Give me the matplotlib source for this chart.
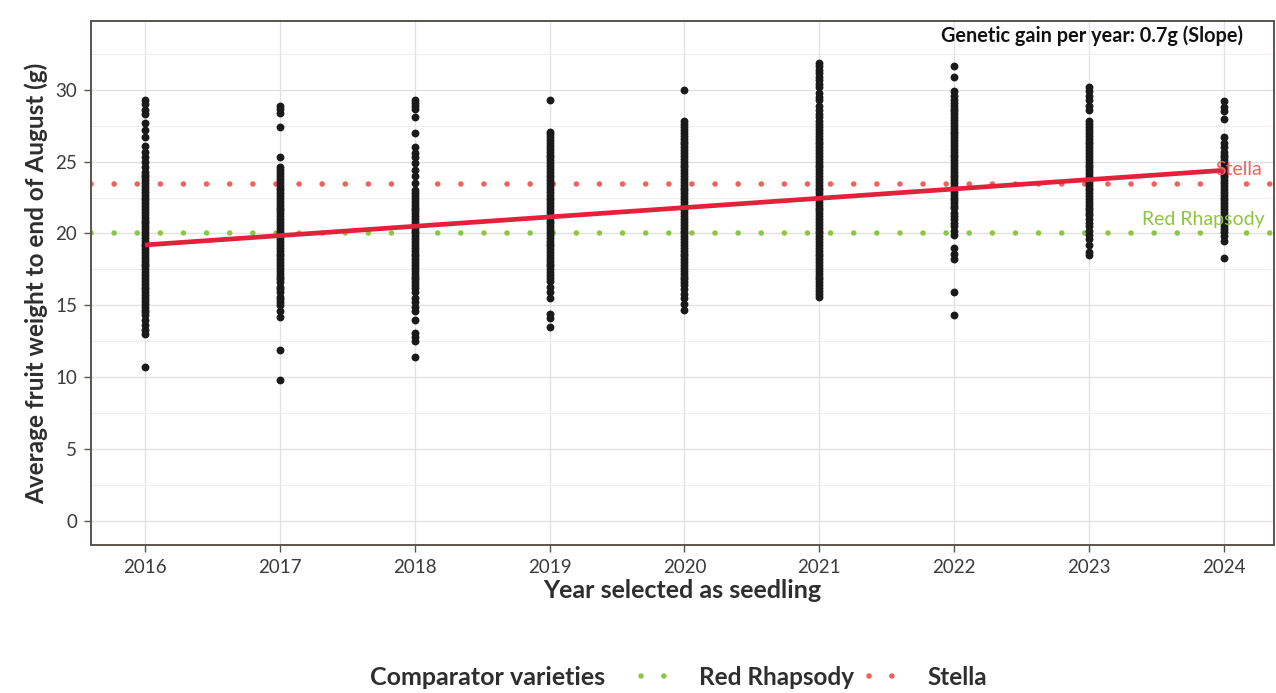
import matplotlib
matplotlib.use("Agg")
import matplotlib.pyplot as plt
from matplotlib.lines import Line2D

plt.rcParams['font.family'] = ['Lato', 'DejaVu Sans']

# fruit weight (g) of each selected seedling, by year selected
years = [2016, 2017, 2018, 2019, 2020, 2021, 2022, 2023, 2024]
weights = {
    2016: [29.3, 29.0, 28.6, 28.3, 27.7, 27.2, 26.7, 26.1, 25.7, 25.3, 25.0, 24.6,
           24.3, 24.1, 23.9, 23.7, 23.5, 23.3, 23.1, 22.9, 22.7, 22.5, 22.3, 22.1,
           21.9, 21.7, 21.5, 21.3, 21.1, 20.9, 20.7, 20.5, 20.3, 20.1, 19.9, 19.7,
           19.5, 19.3, 19.1, 18.9, 18.7, 18.5, 18.3, 18.1, 17.9, 17.7, 17.5, 17.3,
           17.1, 16.9, 16.7, 16.5, 16.3, 16.1, 15.9, 15.7, 15.5, 15.3, 15.1, 14.9,
           14.7, 14.5, 14.3, 14.0, 13.6, 13.3, 13.0, 10.7],
    2017: [28.9, 28.7, 28.4, 27.4, 25.3, 24.6,
           24.4, 24.2, 24.0, 23.8, 23.6, 23.4, 23.2, 23.0, 22.8, 22.6, 22.4, 22.2,
           22.0, 21.8, 21.6, 21.4, 21.2, 21.0, 20.8, 20.6, 20.4, 20.2, 20.0, 19.8,
           19.6, 19.4, 19.2, 19.0, 18.8, 18.6, 18.4, 18.2, 18.0, 17.8, 17.6, 17.4,
           17.2, 17.0, 16.8, 16.6, 16.3, 16.1, 15.9, 15.6, 15.4, 15.2, 15.0,
           14.6, 14.2, 11.9, 9.8],
    2018: [29.3, 29.1, 28.9, 28.7, 28.1, 27.0, 26.0, 25.6, 25.3, 24.9, 24.4, 24.0,
           23.5, 23.0, 22.8, 22.6, 22.4, 22.2, 22.0, 21.8, 21.6, 21.4, 21.2, 21.0,
           20.8, 20.6, 20.4, 20.2, 20.0, 19.8, 19.6, 19.4, 19.2, 19.0, 18.8, 18.6,
           18.4, 18.2, 18.0, 17.8, 17.6, 17.4, 17.2, 17.0, 16.8, 16.6, 16.4, 16.2,
           15.9, 15.5, 15.2, 14.9, 14.6, 14.0, 13.1, 12.8, 12.5, 11.4],
    2019: [29.3, 27.1, 26.9, 26.7, 26.5, 26.3, 26.1, 25.9, 25.7, 25.5, 25.3, 25.1,
           24.9, 24.7, 24.5, 24.3, 24.1, 23.9, 23.7, 23.5, 23.3, 23.1, 22.9, 22.7,
           22.5, 22.3, 22.1, 21.9, 21.7, 21.5, 21.3, 21.1, 20.9, 20.7, 20.5, 20.3,
           20.1, 19.9, 19.7, 19.5, 19.3, 19.1, 18.9, 18.7, 18.5, 18.3, 18.1, 17.9,
           17.7, 17.5, 17.3, 17.1, 16.9, 16.7, 16.3, 15.9, 15.5, 14.4, 14.1, 13.5],
    2020: [30.0, 27.8, 27.6, 27.4, 27.2, 27.0, 26.8, 26.6, 26.4, 26.2, 26.0, 25.8,
           25.6, 25.4, 25.2, 25.0, 24.8, 24.6, 24.4, 24.2, 24.0, 23.8, 23.6, 23.4,
           23.2, 23.0, 22.8, 22.6, 22.4, 22.2, 22.0, 21.8, 21.6, 21.4, 21.2, 21.0,
           20.8, 20.6, 20.4, 20.2, 20.0, 19.8, 19.6, 19.4, 19.2, 19.0, 18.8, 18.6,
           18.4, 18.2, 18.0, 17.8, 17.6, 17.4, 17.2, 17.0, 16.8, 16.6, 16.4,
           16.1, 15.8, 15.5, 15.1, 14.7],
    2021: [31.9, 31.7, 31.4, 31.2, 30.9, 30.7, 30.4, 30.2, 29.8, 29.5, 29.3, 28.9,
           28.6, 28.3, 28.1,
           27.8, 27.6, 27.4, 27.2, 27.0, 26.8, 26.6, 26.4, 26.2, 26.0, 25.8, 25.6,
           25.4, 25.2, 25.0, 24.8, 24.6, 24.4, 24.2, 24.0, 23.8, 23.6, 23.4, 23.2,
           23.0, 22.8, 22.6, 22.4, 22.2, 22.0, 21.8, 21.6, 21.4, 21.2, 21.0, 20.8,
           20.6, 20.4, 20.2, 20.0, 19.8, 19.6, 19.4, 19.2, 19.0, 18.8, 18.6, 18.4,
           18.2, 18.0, 17.8, 17.6, 17.4, 17.2, 17.0, 16.8, 16.6, 16.4, 16.2, 16.0,
           15.8, 15.6],
    2022: [31.7, 30.9, 29.9, 29.6, 29.3,
           29.1, 28.9, 28.7, 28.5, 28.3, 28.1, 27.9, 27.7, 27.5, 27.3, 27.1, 26.9,
           26.7, 26.5, 26.3, 26.1, 25.9, 25.7, 25.5, 25.3, 25.1, 24.9, 24.7, 24.5,
           24.3, 24.1, 23.9, 23.7, 23.5, 23.3, 23.1, 22.9, 22.7, 22.5, 22.3, 22.1,
           21.9, 21.8, 21.4, 21.2, 21.0, 20.7, 20.5, 20.2, 19.9, 19.0, 18.6, 18.2,
           15.9, 14.3],
    2023: [30.2, 29.9, 29.6, 29.3, 28.9, 28.6,
           27.8, 27.6, 27.4, 27.2, 27.0, 26.8, 26.6, 26.4, 26.2, 26.0, 25.8, 25.6,
           25.4, 25.2, 25.0, 24.8, 24.6, 24.4, 24.2, 24.0, 23.8, 23.6, 23.4, 23.2,
           23.0, 22.8, 22.6, 22.4, 22.2, 22.0, 21.8, 21.6, 21.4, 21.3,
           21.0, 20.7, 20.5, 20.2, 19.9, 19.6, 19.2, 18.7, 18.5],
    2024: [29.2, 28.8, 28.5, 28.0, 26.7, 26.3, 26.0,
           25.7, 25.5, 25.3, 25.1, 24.9, 24.7, 24.5, 24.3, 24.1, 23.9, 23.7, 23.5,
           23.3, 23.1, 22.9, 22.7, 22.5, 22.3, 22.1, 21.9, 21.7, 21.5, 21.3, 21.1,
           20.9, 20.7, 20.5, 20.3, 20.1, 19.8, 19.5, 18.3],
}

# fitted trend (slope ~0.7 g/year)
trend_years = [2016, 2024]
trend_values = [19.2, 24.4]

# comparator varieties
comparators = ['Red Rhapsody', 'Stella']
comparator_values = [20.0, 23.45]
comparator_colors = ['#8DC63F', '#F0605D']

fig = plt.figure(figsize=(12.76, 6.93), dpi=100)
ax = fig.add_axes([0.0713, 0.2136, 0.9271, 0.7561])

for yr in years:
    ax.scatter([yr] * len(weights[yr]), weights[yr], s=32, color='#1a1a1a',
               linewidths=0, zorder=3)

for name, val, col in zip(comparators, comparator_values, comparator_colors):
    ax.axhline(val, color=col, lw=4.0, linestyle=(0, (0.01, 4.15)),
               dash_capstyle='round', zorder=2)

ax.plot(trend_years, trend_values, color='#E3213B', lw=3.4, zorder=4,
        solid_capstyle='butt')

ax.text(2024.28, 24.45, 'Stella', color=comparator_colors[1], fontsize=14,
        ha='right', va='center', zorder=5)
ax.text(2024.3, 21.0, 'Red Rhapsody', color=comparator_colors[0], fontsize=14,
        ha='right', va='center', zorder=5)
ax.text(2023.02, 33.75, 'Genetic gain per year: 0.7g (Slope)', color='#111111',
        fontsize=14.3, fontweight='bold', ha='center', va='center')

ax.set_xlim(2015.6, 2024.37)
ax.set_ylim(-1.7, 34.8)
ax.set_xticks(years)
ax.set_yticks([0, 5, 10, 15, 20, 25, 30])
ax.set_yticks([2.5, 7.5, 12.5, 17.5, 22.5, 27.5, 32.5], minor=True)
ax.grid(which='major', color='#e2e2e2', lw=1.0, zorder=0)
ax.grid(which='minor', axis='y', color='#eeeeee', lw=0.7, zorder=0)
ax.set_axisbelow(True)
for sp in ax.spines.values():
    sp.set_color('#5a5350')
    sp.set_linewidth(1.4)
ax.tick_params(which='major', length=5, width=1, color='#5a5350',
               labelsize=13.5, labelcolor='#3b3b3b', pad=5)
ax.tick_params(which='minor', length=0)

ax.set_xlabel('Year selected as seedling', fontsize=18, fontweight='bold',
              color='#2e2e2e', labelpad=2)
ax.set_ylabel('Average fruit weight to end of August (g)', fontsize=17.5,
              fontweight='bold', color='#2e2e2e', labelpad=5)

# legend at the bottom, title to the left of the keys like ggplot
fig.text(370 / 1276, 0.023, 'Comparator varieties', fontsize=18,
         fontweight='bold', color='#2e2e2e', ha='left', va='center')
handles = [Line2D([0], [0], color=c, lw=4.0, linestyle=(0, (0.01, 4.1)),
                  dash_capstyle='round') for c in comparator_colors]
leg = fig.legend(handles, comparators, loc='center left',
                 bbox_to_anchor=(619 / 1276, 0.023),
                 ncol=2, frameon=False, handlelength=1.0, columnspacing=0.6,
                 handletextpad=1.4, prop={'size': 17.5, 'weight': 'bold'})
for t in leg.get_texts():
    t.set_color('#2e2e2e')

fig.savefig('out.png', dpi=100)
